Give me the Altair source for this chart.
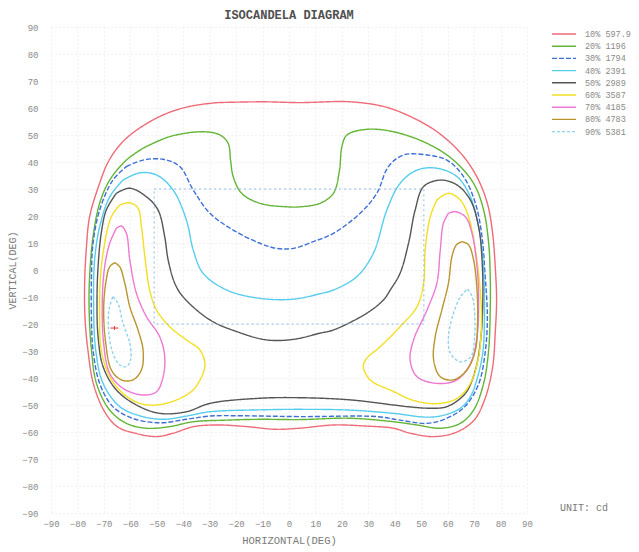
import altair as alt
import pandas as pd

TITLE = "ISOCANDELA DIAGRAM"
X_TITLE = "HORIZONTAL(DEG)"
Y_TITLE = "VERTICAL(DEG)"
UNIT = "UNIT: cd"
TICKS = [-90, -80, -70, -60, -50, -40, -30, -20, -10, 0, 10, 20, 30, 40, 50, 60, 70, 80, 90]

LEVELS = ["10% 597.9", "20% 1196", "30% 1794", "40% 2391", "50% 2989",
          "60% 3587", "70% 4185", "80% 4783", "90% 5381"]
COLORS = ["#ee6b78", "#62b536", "#3d6fd6", "#56cdee", "#555555",
          "#f2e020", "#ee78d2", "#b8952c", "#8fd3ee"]
DASHES = [[1, 0], [1, 0], [5, 2], [1, 0], [1, 0], [1, 0], [1, 0], [1, 0], [3, 2]]

# contour traces (degrees)
C10_X = [-27, -10, 4, 23, 36, 46, 56, 65, 71, 75, 77, 78, 78.5, 78, 77, 74, 70, 63.5, 55, 46, 39.5, 29, 17, 4, -5, -16, -27, -36, -44, -50, -58, -65, -70, -74, -76, -77.1, -77.3, -76.6, -75.4, -72, -68, -61.5, -49, -38, -27]
C10_Y = [62, 62.3, 62, 62.3, 60.5, 56.8, 51.2, 43.2, 34.6, 24.7, 13.6, 1, -11, -23, -36, -48, -55.6, -60, -61.7, -60.5, -58.6, -57.8, -57.4, -58.6, -59, -58, -57.4, -58, -60.5, -61.7, -60.5, -58, -52, -42, -30, -18.5, -6, 8.6, 19.7, 31, 40.7, 48.8, 56.8, 60.5, 62]

C20_X = [-55.2, -45.1, -32.5, -26.1, -23, -22.1, -21.1, -17.9, -11, -0.9, 4.2, 11.7, 16.8, 19.1, 20, 21.9, 29.4, 39.5, 52.2, 62.2, 69.8, 73.6, 75.5, 76.1, 76.1, 75.5, 73.6, 69.8, 64.8, 57.2, 48.4, 39.5, 23.1, 4, -11, -23.6, -36.2, -45.1, -53.9, -61.5, -67.8, -72.8, -74.7, -75.6, -75.4, -74.1, -71.6, -67.8, -61.5, -55.2]
C20_Y = [45.1, 49.4, 51.2, 50, 46.9, 40.7, 34.6, 28.4, 24.7, 23.4, 23.4, 24.7, 28.4, 37, 45.7, 50, 52.1, 51.2, 46.9, 40.7, 32.1, 22.2, 9.9, -2.5, -14, -29.6, -42, -51.9, -56.8, -58.6, -57.4, -56.2, -54.9, -55.4, -55.3, -55.6, -56.2, -58, -58.6, -56.8, -51.9, -42, -29.6, -14, -2.5, 12.3, 24.7, 33.3, 40.7, 45.1]

C30_X = [-61.5, -55.2, -47.6, -41.3, -36.2, -29.9, -21.1, -11, -4.7, 1.6, 9.2, 16.8, 26.9, 33.2, 37.6, 43.3, 52.2, 59.7, 66, 70.5, 73, 74.2, 74.8, 75, 74.3, 71.8, 66.5, 59.7, 52.2, 42, 33.2, 4.2, -17.3, -29.9, -38.8, -48.9, -59, -66.6, -71.6, -74.1, -74.7, -74.7, -74.1, -71.6, -66.6, -61.5]
C30_Y = [38.3, 40.7, 41, 38.3, 29.6, 21, 14.8, 9.9, 8, 8, 10.5, 13.6, 21, 28.4, 38.3, 42.6, 42.6, 40.7, 34.6, 24.7, 12.3, -2.5, -11.1, -18.5, -29.6, -42, -50.6, -54.9, -56.8, -55.6, -54.3, -54.3, -54, -54.1, -55.3, -56.6, -55, -50.6, -42, -29.6, -18.5, -2.5, 9.9, 22.2, 33.3, 38.3]

C40_X = [-62.8, -56.4, -50.1, -43.8, -38.8, -36.2, -32.5, -23.6, -11, 1.6, 11.7, 16.8, 25.6, 31.9, 37, 42, 48.4, 55.9, 63.5, 68.6, 71.7, 73.4, 73.9, 73.9, 73.4, 71.7, 68.6, 64.8, 58.4, 52.2, 39.5, 23.1, 4.2, -11, -29.9, -38.8, -47.6, -56.4, -64, -70.3, -73.1, -73.9, -73.5, -71.6, -67.8, -62.8]
C40_Y = [33.3, 36, 35.2, 29.6, 18.5, 7.4, -1.2, -7.4, -10.5, -10.8, -8.8, -7.4, -2.5, 6.2, 22.2, 32.1, 37, 37.7, 34.6, 27.1, 16, 3.7, -11.1, -18.5, -29.6, -38.3, -46.9, -51.2, -53.8, -54.5, -53.1, -51.9, -51.6, -51.8, -52.5, -54.1, -55.3, -54, -50.6, -42, -29.6, -11.1, 3.7, 16, 27.1, 33.3]

C50_X = [-65.3, -60.2, -53.9, -49.5, -47, -45.7, -43.2, -40, -29.9, -19.8, -8.4, 1.6, 11.7, 16.8, 29.4, 35.7, 38.3, 42, 45.2, 47.7, 50.9, 57.2, 63.5, 68.6, 71.7, 73, 73.3, 72.6, 70.5, 66.7, 59.7, 53.4, 44.6, 39.5, 23.1, 4.2, -11, -29.9, -38.8, -48.9, -57.7, -65.3, -70.3, -72.2, -72.6, -72.2, -71, -69.1, -65.3]
C50_Y = [28.4, 30.3, 27.1, 22.2, 12.3, 3.7, -4.9, -10, -18.5, -22.8, -25.9, -25.7, -23.4, -22.2, -16, -11.1, -7.4, -1.2, 9.9, 22.2, 30.9, 33.3, 31.5, 25.9, 16, 3.7, -11.1, -24.7, -37, -45.7, -50.6, -51.2, -50.6, -50, -48.1, -47.3, -47.5, -49.4, -52.5, -53.1, -50, -44.4, -35.8, -24.7, -11.1, 1.2, 13.6, 22.2, 28.4]

C60L_X = [-64, -60.2, -57.1, -55.8, -54.5, -52.7, -50.1, -45.1, -38.8, -33.7, -31.8, -32.5, -36.2, -42.5, -50.1, -56.4, -62.8, -67.8, -71, -71.6, -71.3, -69.7, -67.2, -64]
C60L_Y = [24.1, 24.9, 22.9, 16, 4.9, -7.4, -14.8, -21, -25.9, -29.6, -34.6, -38.3, -44.4, -48.1, -50, -49.4, -45.7, -39.5, -29.6, -17.3, -2.5, 9.9, 19.7, 24.1]
C60R_X = [55.9, 60.3, 64.8, 67.9, 70.5, 72.3, 72.8, 71.7, 68.6, 63.5, 55.9, 47.1, 39.5, 30.7, 28.1, 29.4, 34.5, 42, 48.4, 50.9, 51.5, 53.4, 55.9]
C60R_Y = [25.9, 28.4, 25.9, 19.7, 7.4, -7.4, -19.7, -32.1, -42, -47.6, -49.5, -48.3, -45, -40.7, -35.8, -32.7, -28.4, -21, -13.6, -4.9, 7.4, 19.7, 25.9]

C70L_X = [-65.3, -63.4, -61.5, -60.2, -57.7, -53.9, -48.9, -47, -47.6, -50.1, -55.2, -62.8, -67.8, -70.1, -70.6, -69.7, -67.8, -65.3]
C70L_Y = [15.4, 16.3, 13.6, 3.7, -8.6, -17.3, -24.7, -32.1, -39.5, -45.1, -46.3, -43.8, -38.3, -27.1, -11.1, 1.2, 9.9, 15.4]
C70R_X = [60.3, 62.9, 66.7, 69.2, 71.1, 71.7, 71.1, 68.6, 63.5, 55.9, 48.4, 45.8, 47.1, 52.2, 55.9, 57.2, 58.4, 60.3]
C70R_Y = [21, 21.6, 19.7, 13.6, 1.2, -11.1, -24.7, -34.6, -40.7, -42, -39.5, -33.3, -25.9, -14.8, -4.9, 7.4, 17.3, 21]

C80L_X = [-65.9, -64, -62.1, -60.2, -57.1, -55.2, -55.8, -59, -63.4, -67.2, -69.3, -70.1, -69.3, -67.8, -65.9]
C80L_Y = [2.7, 1.2, -4.9, -13.6, -22.2, -29.6, -37, -40.7, -40.7, -37, -27.1, -14.8, -4.9, 1.2, 2.7]
C80R_X = [65.4, 67.9, 69.8, 71.1, 71.3, 70.5, 67.3, 62.2, 57.2, 54.7, 55.3, 57.8, 60.3, 61.6, 63.3, 65.4]
C80R_Y = [10.5, 9.3, 3.7, -7.4, -19.7, -29.6, -37, -40.7, -39.5, -33.3, -24.7, -14.8, -4.9, 4.9, 9.3, 10.5]

C90L_X = [-66.6, -64.7, -62.8, -60.2, -59.9, -61.5, -64, -66.6, -68.1, -68.1, -66.6]
C90L_Y = [-9.9, -12.3, -19.7, -27.1, -33.3, -35.8, -35.2, -30.8, -23.4, -14.8, -9.9]
C90R_X = [67.5, 69.3, 70.3, 70.1, 68.8, 64.8, 61, 60.3, 62.2, 64.8, 67.5]
C90R_Y = [-7.1, -9.9, -17.3, -25.9, -32.1, -34, -30.8, -24.7, -16, -9.9, -7.1]

CONTOURS = [
    (0, "a", C10_X, C10_Y), (1, "a", C20_X, C20_Y), (2, "a", C30_X, C30_Y),
    (3, "a", C40_X, C40_Y), (4, "a", C50_X, C50_Y),
    (5, "l", C60L_X, C60L_Y), (5, "r", C60R_X, C60R_Y),
    (6, "l", C70L_X, C70L_Y), (6, "r", C70R_X, C70R_Y),
    (7, "l", C80L_X, C80L_Y), (7, "r", C80R_X, C80R_Y),
    (8, "l", C90L_X, C90L_Y), (8, "r", C90R_X, C90R_Y),
]

# beam box and max marker (degrees)
BOX_X = [-51]
BOX_X2 = [51]
BOX_Y = [30]
BOX_Y2 = [-20]
MAX_X = [-66]
MAX_Y = [-21.5]

rows = []
for li, part, xs, ys in CONTOURS:
    for i, (x, y) in enumerate(zip(xs, ys)):
        rows.append({"level": LEVELS[li], "key": LEVELS[li] + part, "i": i, "h": x, "v": y})
df = pd.DataFrame(rows)

MONO = "Liberation Mono"
xscale = alt.Scale(domain=[-90, 90], nice=False, zero=False)
yscale = alt.Scale(domain=[-90, 90], nice=False, zero=False)

xaxis = alt.Axis(values=TICKS, title=X_TITLE, grid=True, domain=False, ticks=False,
                 labelOverlap=False, labelFlush=False,
                 labelFont=MONO, labelFontSize=9, labelColor="#8a8a8a", labelPadding=6,
                 titleFont=MONO, titleFontSize=10.5, titleFontWeight="normal",
                 titleColor="#7a7a7a", titlePadding=7,
                 gridColor="#e9e0e0", gridDash=[1, 3])
yaxis = alt.Axis(values=TICKS, title=Y_TITLE, grid=True, domain=False, ticks=False,
                 labelOverlap=False, labelFlush=False,
                 labelFont=MONO, labelFontSize=9, labelColor="#8a8a8a", labelPadding=13,
                 titleFont=MONO, titleFontSize=10, titleFontWeight="normal",
                 titleColor="#7a7a7a", titlePadding=4,
                 gridColor="#e9e0e0", gridDash=[1, 3])

legend = alt.Legend(title=None, orient="none", legendX=507, legendY=1,
                    symbolType="M-2.4,0H2.4", symbolSize=100, symbolStrokeWidth=1.4,
                    labelOffset=15, rowPadding=1.2, labelFont=MONO, labelFontSize=8.5,
                    labelColor="#8a8a8a", padding=0)

lines = alt.Chart(df).mark_line(strokeWidth=1.4, interpolate="catmull-rom").encode(
    x=alt.X("h:Q", scale=xscale, axis=xaxis),
    y=alt.Y("v:Q", scale=yscale, axis=yaxis),
    color=alt.Color("level:N", scale=alt.Scale(domain=LEVELS, range=COLORS), legend=legend),
    strokeDash=alt.StrokeDash("level:N", scale=alt.Scale(domain=LEVELS, range=DASHES), legend=legend),
    detail="key:N",
    order="i:Q",
)

box = alt.Chart(pd.DataFrame({"h": BOX_X, "h2": BOX_X2, "v": BOX_Y, "v2": BOX_Y2})).mark_rect(
    fillOpacity=0, stroke="#8ab8ea", strokeWidth=1, strokeDash=[2, 3]
).encode(
    x=alt.X("h:Q", scale=xscale, axis=xaxis), x2="h2:Q",
    y=alt.Y("v:Q", scale=yscale, axis=yaxis), y2="v2:Q",
)

cross = alt.Chart(pd.DataFrame({"h": MAX_X, "v": MAX_Y})).mark_point(
    shape="M-1,0H1M0,-0.5V0.5", filled=False, size=64, stroke="#e03a3a", strokeWidth=1, opacity=1
).encode(x=alt.X("h:Q", scale=xscale, axis=xaxis), y=alt.Y("v:Q", scale=yscale, axis=yaxis))

unit = alt.Chart(pd.DataFrame({"t": [UNIT]})).mark_text(
    font=MONO, fontSize=10, color="#7a7a7a", align="left", baseline="middle"
).encode(x=alt.value(509), y=alt.value(481), text="t:N")

chart = alt.layer(lines, box, cross, unit).properties(
    width=476, height=486,
    title=alt.TitleParams(TITLE, font=MONO, fontSize=12, fontWeight="bold", color="#505050",
                          anchor="middle", offset=1),
    autosize=alt.AutoSizeParams(type="none"),
    padding={"left": 43, "top": 19, "right": 104, "bottom": 36},
).configure_view(stroke=None)

chart.save("out.html", embed_options={"renderer": "svg", "actions": False})
